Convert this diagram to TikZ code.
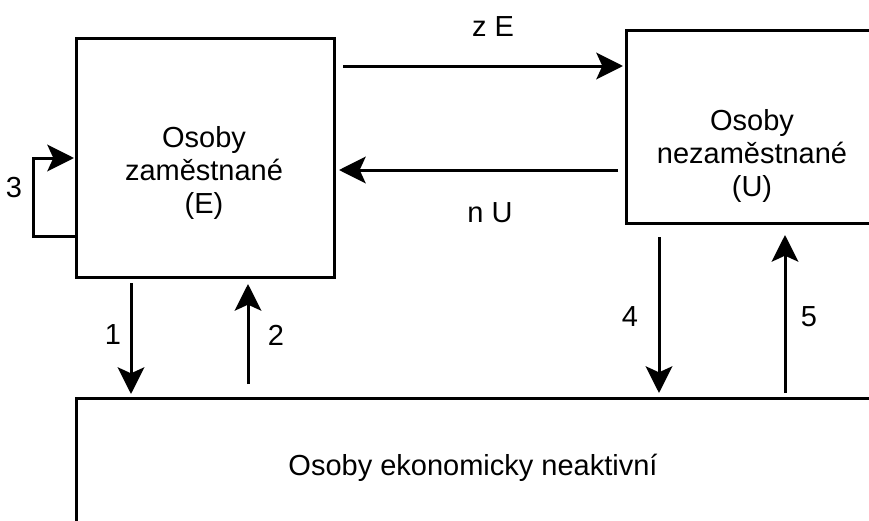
\documentclass[tikz,border=0pt]{standalone}
\usepackage{fontspec}
\setmainfont{Liberation Sans}
\usetikzlibrary{arrows.meta}
\begin{document}
\begin{tikzpicture}[x=0.75pt,y=-0.75pt,
  box/.style={draw, line width=2.25pt, inner sep=0pt, outer sep=0pt},
  arr/.style={line width=2.25pt, -{Stealth[length=20pt,width=20pt,inset=4.5pt]}},
  lbl/.style={font=\fontsize{21.75}{24.6}\selectfont, inner sep=0pt, align=center},
]
\clip (0,0) rectangle (869,521);
\fill[white] (0,0) rectangle (869,521);
% boxes
\node[box, minimum width=193.5pt, minimum height=179.25pt] (E) at (205,157.5) {};
\node[box, minimum width=189pt, minimum height=144.75pt] (U) at (752,126.5) {};
\node[box, minimum width=599.25pt, minimum height=99pt] (N) at (475.5,464) {};
% box texts
\node[lbl] (Et) at (204,173) {Osoby\\zaměstnané\\(E)};
\node[lbl] (Ut) at (752,156) {Osoby\\nezaměstnané\\(U)};
\node[lbl, anchor=base] (Nt) at (473,475) {Osoby ekonomicky neaktivní};
% connectors
\draw[arr] ([shift={(9,-91.5)}]E.east) -- ([shift={(-3,-60.5)}]U.west);
\draw[arr] ([shift={(-8,43.5)}]U.west) -- ([shift={(5,12.5)}]E.east);
\draw[arr] ([shift={(-74,6)}]E.south) -- ([shift={(-344.5,-4)}]N.north);
\draw[arr] ([shift={(-227.5,-14)}]N.north) -- ([shift={(43,7)}]E.south);
\draw[arr] ([shift={(-93,14)}]U.south) -- ([shift={(183.5,-5)}]N.north);
\draw[arr] ([shift={(309.5,-5)}]N.north) -- ([shift={(33,12)}]U.south);
\draw[arr] ([shift={(0,78.5)}]E.west) -- ++(-43,0) |- ([shift={(-2,0.5)}]E.west);
% labels
\node[lbl] (l3) at (14,188) {3};
\node[lbl] (lz) at (493,27) {z E};
\node[lbl] (ln) at (490,213) {n U};
\node[lbl] (l1) at (113,335) {1};
\node[lbl] (l2) at (276,335) {2};
\node[lbl] (l4) at (630,317) {4};
\node[lbl] (l5) at (809,317) {5};
\end{tikzpicture}
\end{document}
